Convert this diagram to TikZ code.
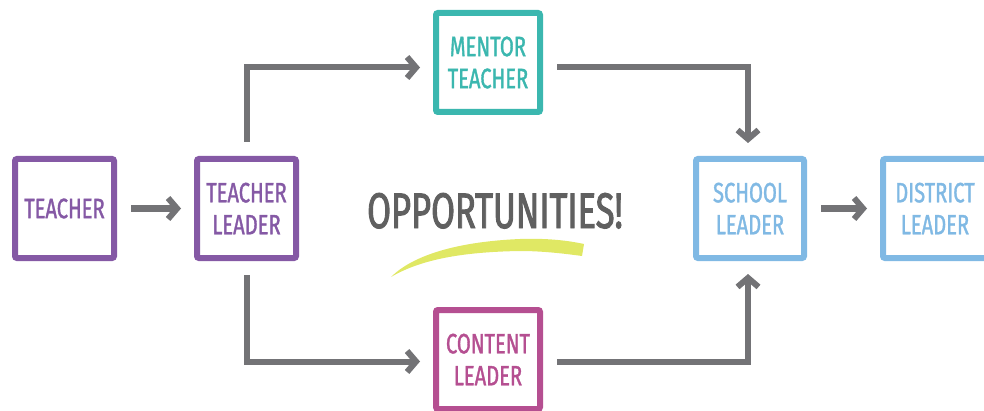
\documentclass[tikz,border=0pt]{standalone}
\usepackage{fontspec}
\setmainfont{Fira Sans}
\newfontfamily\stagefont[FakeStretch=0.72,FakeBold=1.2]{Fira Sans}
\newfontfamily\oppfont[FakeStretch=0.69,FakeBold=1.8]{Fira Sans}
\usetikzlibrary{arrows.meta}
\usetikzlibrary{positioning}

\definecolor{tlpurple}{HTML}{8559A5}
\definecolor{mentorteal}{HTML}{3BB7AF}
\definecolor{contentpink}{HTML}{B54F91}
\definecolor{leaderblue}{HTML}{80B9E4}
\definecolor{flowgray}{HTML}{737376}
\definecolor{oppgray}{HTML}{606060}
\definecolor{brushyellow}{HTML}{E0E864}

\tikzset{
  stage/.style={draw, fill=white, line width=6pt, rounded corners=2pt,
    minimum width=99pt, minimum height=99pt, inner sep=0pt, align=center,
    font=\stagefont\fontsize{28}{32}\selectfont},
  flow/.style={draw=flowgray, line width=6pt,
    -{Straight Barb[length=9pt,width=21pt]},
    shorten <=14pt, shorten >=13pt}
}

\begin{document}
\begin{tikzpicture}[x=1pt,y=1pt]
 \useasboundingbox (0,0) rectangle (984,410);

 % first step
 \node[stage, draw=tlpurple, text=tlpurple] (teacher) at (64.5,201.5) {TEACHER};

 % next step, right of teacher
 \node[stage,
  draw=tlpurple, text=tlpurple,
  right of=teacher,   % same row
  node distance=182pt] (tl) {TEACHER\\LEADER};

 % upper branch
 \node[stage,
  draw=mentorteal, text=mentorteal,
  minimum width=104pt,
  right of=tl,
  node distance=241.5pt,
  yshift=146pt] (mentor) {MENTOR\\TEACHER};

 % lower branch
 \node[stage,
  draw=contentpink, text=contentpink,
  minimum width=104pt,
  right of=tl,
  node distance=241.5pt,
  yshift=-151pt] (content) {CONTENT\\LEADER};

 % branches meet again
 \node[stage,
  draw=leaderblue, text=leaderblue,
  minimum width=108pt,
  right of=tl,
  node distance=503.5pt] (school) {SCHOOL\\LEADER};

 \node[stage,
  draw=leaderblue, text=leaderblue,
  minimum width=104pt,
  right of=school,
  node distance=185pt] (district) {DISTRICT\\LEADER};

 % the word in the middle and its brush stroke
 \fill[brushyellow] (391,133) .. controls (410,152) and (450,168) .. (520,171)
  .. controls (550,172) and (570,169) .. (584,166) -- (582,154)
  .. controls (560,157) and (540,159) .. (520,159)
  .. controls (460,158) and (420,150) .. (391,133) -- cycle;
 \node[anchor=base, inner sep=0pt, text=oppgray,
  font=\oppfont\fontsize{50}{60}\selectfont] (opps) at (495,182) {OPPORTUNITIES!};

 % the arrows
 \draw[flow] (teacher) -- (tl);
 \draw[flow] (tl.north) |- ([yshift=-5pt]mentor.west);
 \draw[flow] (tl.south) |- ([yshift=-2pt]content.west);
 \draw[flow] ([yshift=-5pt]mentor.east) -| ([xshift=-2pt]school.north);
 \draw[flow] ([yshift=-2pt]content.east) -| ([xshift=-2pt]school.south);
 \draw[flow] (school) -- (district);

\end{tikzpicture}
\end{document}
